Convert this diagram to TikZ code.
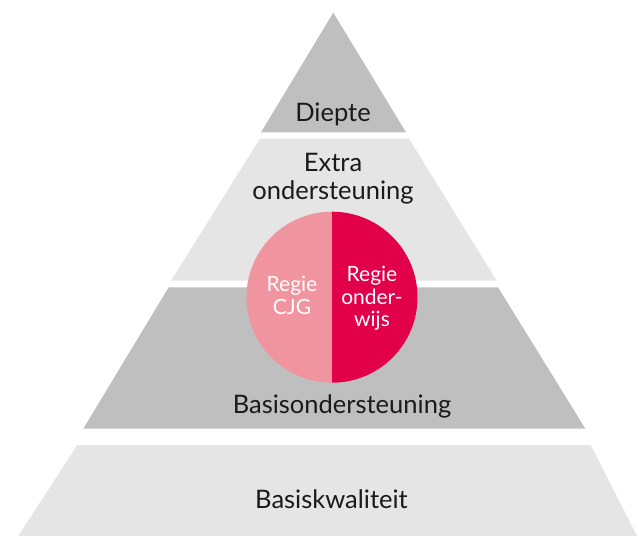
\documentclass[tikz,border=0pt]{standalone}
\usepackage{fontspec}
\setmainfont{Lato}
\usepackage{tikz}
\definecolor{tierdark}{HTML}{BFBFBF}
\definecolor{tierlight}{HTML}{E5E5E5}
\definecolor{cjg}{HTML}{F0959F}
\definecolor{onderwijs}{HTML}{E3004A}
\definecolor{ink}{HTML}{1A1A1A}
\tikzset{
  darktier/.style={fill=tierdark},
  lighttier/.style={fill=tierlight},
  lab/.style={text=ink, font=\fontsize{25.5}{28}\selectfont, align=center, anchor=base, inner sep=0pt},
  regie/.style={text=white, font=\fontsize{21}{22.5}\selectfont, align=center, anchor=base, inner sep=0pt},
}

\begin{document}
\begin{tikzpicture}[x=1pt,y=-1pt]
\useasboundingbox (0,0) rectangle (637,536);
% tiers
\fill[darktier] (333.3,12.7) -- (406,132.3) -- (261,132.3) -- cycle;
\fill[lighttier] (260,138.7) -- (409,138.7) -- (496.7,280.7) -- (171,280.7) -- cycle;
\fill[darktier] (168.7,287.3) -- (498,287.3) -- (585.4,428.7) -- (83.3,428.7) -- cycle;
\fill[lighttier] (77.3,445) -- (590.7,445) -- (637,536) -- (18.3,536) -- cycle;
% circle
\fill[cjg] (332,211.7) arc (90:270:85.5pt) -- cycle;
\fill[onderwijs] (332,211.7) arc (90:-90:85.5pt) -- cycle;
% labels (base = last line)
\node[lab] (diepte) at (333,121.7) {Diepte};
\node[lab] (extra) at (333,199) {Extra\\ondersteuning};
\node[lab] (basisonder) at (342,413.3) {Basisondersteuning};
\node[lab] (basiskwal) at (331.5,508.3) {Basiskwaliteit};
\node[regie] (regiecjg) at (292,314) {Regie\\CJG};
\node[regie] (regieow) at (372,326.7) {Regie\\onder-\\wijs};
\end{tikzpicture}
\end{document}
